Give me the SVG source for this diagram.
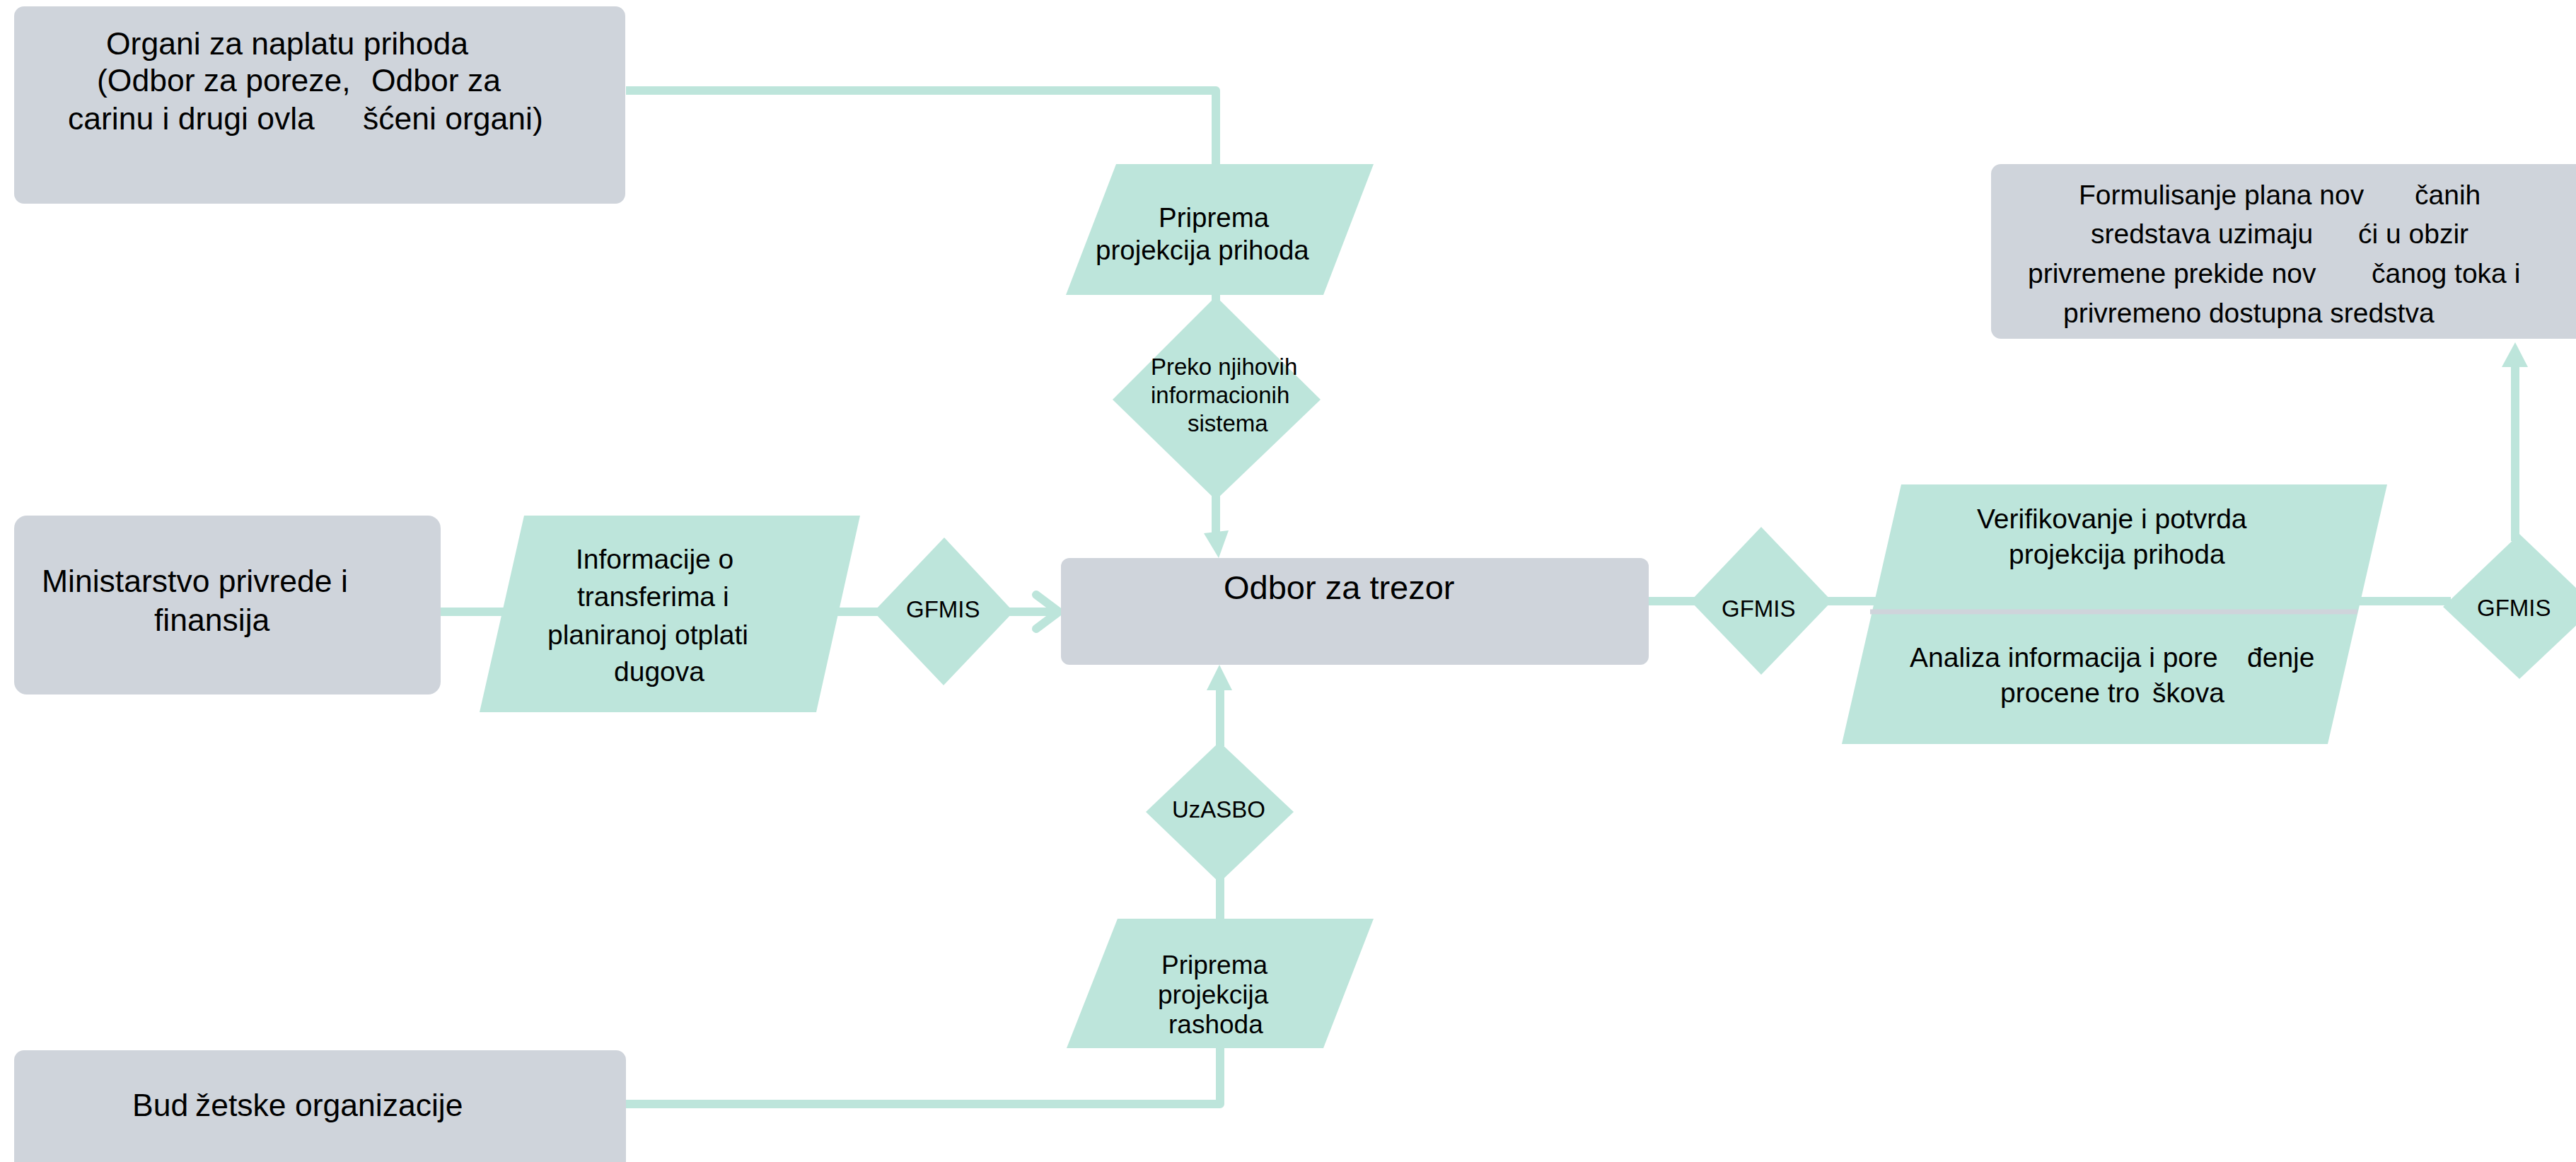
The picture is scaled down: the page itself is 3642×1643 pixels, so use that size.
<svg xmlns="http://www.w3.org/2000/svg" width="3642" height="1643" viewBox="0 0 3642 1643">
<defs>
<style>
.box{fill:#CFD4DB}
.teal{fill:#BDE5DB}
.ln{fill:none;stroke:#BDE5DB;stroke-width:12;stroke-linejoin:round}
.chev{fill:none;stroke:#BDE5DB;stroke-width:12;stroke-linecap:round;stroke-linejoin:round}
.sep{fill:none;stroke:#CFD4DB;stroke-width:7}
text{font-family:"Liberation Sans",Arial,sans-serif;fill:#000}
.t45{font-size:44.5px}
.t47{font-size:47px}
.t39{font-size:39px}
.t38{font-size:38.5px}
.t37{font-size:37px}
.t33{font-size:33px}
</style>
</defs>
<rect width="3642" height="1643" fill="#FFFFFF"/>

<g id="connectors">
<polyline class="ln" points="885,128 1719,128 1719,240"/>
<line class="ln" x1="1719" y1="410" x2="1719" y2="425"/>
<line class="ln" x1="1719" y1="700" x2="1719" y2="758"/>
<polygon class="teal" points="1702,754 1737,750 1723,789"/>
<line class="ln" x1="615" y1="865" x2="725" y2="865"/>
<line class="ln" x1="1170" y1="865" x2="1245" y2="865"/>
<line class="ln" x1="1425" y1="865" x2="1494" y2="865"/>
<polyline class="chev" points="1465,841 1497,865 1465,889"/>
<line class="ln" x1="2325" y1="850" x2="2400" y2="850"/>
<line class="ln" x1="2580" y1="850" x2="2665" y2="850"/>
<line class="ln" x1="3320" y1="850" x2="3465" y2="850"/>
<line class="ln" x1="3556" y1="765" x2="3556" y2="512"/>
<polygon class="teal" points="3537,519 3574,519 3556,484"/>
<line class="ln" x1="1725" y1="1055" x2="1725" y2="972"/>
<polygon class="teal" points="1706,976 1742,976 1724,940"/>
<line class="ln" x1="1725" y1="1240" x2="1725" y2="1305"/>
<polyline class="ln" points="885,1561 1725,1561 1725,1475"/>
</g>

<g id="node-organi">
<rect class="box" x="20" y="9" width="864" height="279" rx="14"/>
<text class="t45" x="150" y="77">Organi za naplatu prihoda</text>
<text class="t45" y="129"><tspan x="137">(Odbor za poreze, </tspan><tspan x="525">Odbor za</tspan></text>
<text class="t45" y="183"><tspan x="96">carinu i drugi ovla </tspan><tspan x="513">šćeni organi)</tspan></text>
</g>

<g id="node-ministarstvo">
<rect class="box" x="20" y="729" width="603" height="253" rx="18"/>
<text class="t45" x="59" y="837">Ministarstvo privrede i</text>
<text class="t45" x="218" y="892">finansija</text>
</g>

<g id="node-budzetske">
<rect class="box" x="20" y="1485" width="865" height="175" rx="14"/>
<text class="t45" y="1578"><tspan x="187">Bud </tspan><tspan x="276">žetske organizacije</tspan></text>
</g>

<g id="node-odbor">
<rect class="box" x="1500" y="789" width="831" height="151" rx="12"/>
<text class="t47" x="1730" y="847">Odbor za trezor</text>
</g>

<g id="node-formulisanje">
<rect class="box" x="2815" y="232" width="845" height="247" rx="14"/>
<text class="t39" y="289"><tspan x="2939">Formulisanje plana nov </tspan><tspan x="3414">čanih</tspan></text>
<text class="t39" y="344"><tspan x="2956">sredstava uzimaju </tspan><tspan x="3334">ći u obzir</tspan></text>
<text class="t39" y="400"><tspan x="2867">privremene prekide nov </tspan><tspan x="3353">čanog toka i</tspan></text>
<text class="t39" x="2917" y="456">privremeno dostupna sredstva</text>
</g>

<g id="node-priprema-prihoda">
<polygon class="teal" points="1578,232 1942,232 1871,417 1507,417"/>
<text class="t38" x="1638" y="321">Priprema</text>
<text class="t38" x="1549" y="367">projekcija prihoda</text>
</g>

<g id="node-preko">
<polygon class="teal" points="1719,419 1867,565 1719,707 1573,565"/>
<text class="t33" x="1627" y="530">Preko njihovih</text>
<text class="t33" x="1627" y="570">informacionih</text>
<text class="t33" x="1679" y="610">sistema</text>
</g>

<g id="node-informacije">
<polygon class="teal" points="741,729 1216,729 1154,1007 678,1007"/>
<text class="t39" x="814" y="804">Informacije o</text>
<text class="t39" x="816" y="857">transferima i</text>
<text class="t39" x="774" y="911">planiranoj otplati</text>
<text class="t39" x="868" y="963">dugova</text>
</g>

<g id="node-gfmis-left">
<polygon class="teal" points="1335,760 1433,865 1334,969 1235,865"/>
<text class="t33" x="1281" y="873">GFMIS</text>
</g>

<g id="node-uzasbo">
<polygon class="teal" points="1724,1049 1829,1148 1724,1248 1620,1148"/>
<text class="t33" x="1657" y="1156">UzASBO</text>
</g>

<g id="node-priprema-rashoda">
<polygon class="teal" points="1580,1299 1942,1299 1871,1482 1508,1482"/>
<text class="t37" x="1642" y="1377">Priprema</text>
<text class="t37" x="1637" y="1419">projekcija</text>
<text class="t37" x="1652" y="1461">rashoda</text>
</g>

<g id="node-gfmis-middle">
<polygon class="teal" points="2490,745 2590,850 2490,954 2390,850"/>
<text class="t33" x="2434" y="872">GFMIS</text>
</g>

<g id="node-verifikovanje">
<polygon class="teal" points="2688,685 3375,685 3291,1052 2604,1052"/>
<line class="sep" x1="2644" y1="865" x2="3333" y2="865"/>
<text class="t39" x="2795" y="747">Verifikovanje i potvrda</text>
<text class="t39" x="2840" y="797">projekcija prihoda</text>
<text class="t39" y="943"><tspan x="2700">Analiza informacija i pore </tspan><tspan x="3177">đenje</tspan></text>
<text class="t39" y="993"><tspan x="2828">procene tro </tspan><tspan x="3043">škova</tspan></text>
</g>

<g id="node-gfmis-right">
<polygon class="teal" points="3562,755 3670,858 3562,960 3454,858"/>
<text class="t33" x="3502" y="871">GFMIS</text>
</g>
</svg>
